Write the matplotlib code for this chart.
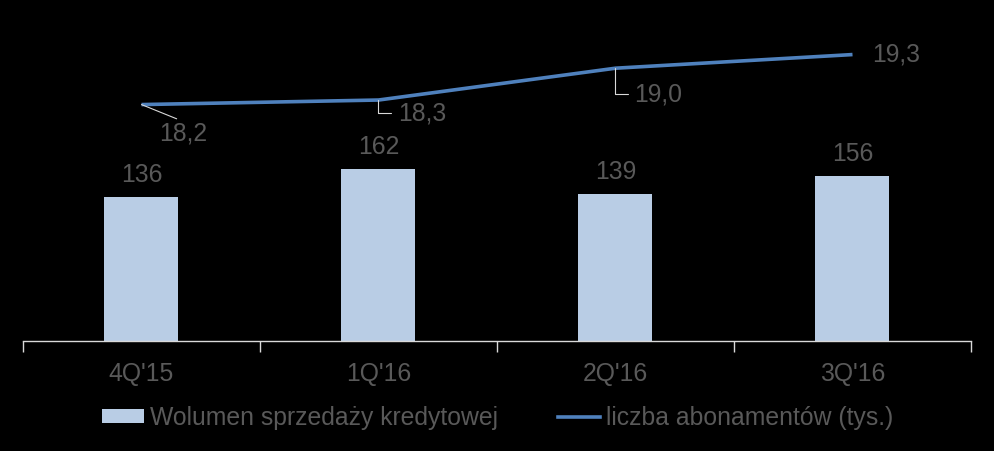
import numpy as np
import matplotlib.pyplot as plt
from matplotlib.patches import Patch
from matplotlib.lines import Line2D

# dane
kwartaly = ["4Q'15", "1Q'16", "2Q'16", "3Q'16"]
wolumen = [136, 162, 139, 156]
abonamenty = [18.2, 18.3, 19.0, 19.3]
etykiety_abon = ["18,2", "18,3", "19,0", "19,3"]

BAR_COLOR = '#B9CDE5'
LINE_COLOR = '#4F81BD'
TEXT_COLOR = '#595959'
LEADER_COLOR = '#D9D9D9'
FS = 17.8

plt.rcParams['font.family'] = ['Liberation Sans', 'DejaVu Sans']

fig = plt.figure(figsize=(9.95, 4.51), dpi=100, facecolor='black')
ax = fig.add_axes([23 / 995, 110 / 451, 948 / 995, 341 / 451])
ax.set_facecolor('black')

x = np.arange(len(kwartaly))
ax.bar(x, wolumen, width=74 / 237, color=BAR_COLOR, zorder=2)
ax.set_xlim(-0.5, len(kwartaly) - 0.5)
ax.set_ylim(0, 322)

# etykiety słupków
for xi, v in zip(x, wolumen):
    ax.annotate(str(v), (xi, v), xytext=(0, 22), textcoords='offset pixels',
                ha='center', va='center', fontsize=FS, color=TEXT_COLOR)

# oś X
for s in ['top', 'right', 'left']:
    ax.spines[s].set_visible(False)
ax.spines['bottom'].set_color(LEADER_COLOR)
ax.spines['bottom'].set_linewidth(1)
ax.set_yticks([])
ax.set_xticks(x)
ax.set_xticklabels(kwartaly, fontsize=FS, color=TEXT_COLOR)
ax.tick_params(axis='x', length=0, pad=15)
ax.set_xticks(np.arange(-0.5, len(kwartaly)), minor=True)
ax.tick_params(axis='x', which='minor', length=8, color=LEADER_COLOR, width=1)

# druga oś – linia
ax2 = ax.twinx()
ax2.set_ylim(13.0, 20.5)
ax2.axis('off')
ax2.plot(x, abonamenty, color=LINE_COLOR, lw=2.6, zorder=3, solid_capstyle='butt')

offsets = [(42, -29), (44, -13), (43, -26), (44, 0)]
for i, (xi, v, lab) in enumerate(zip(x, abonamenty, etykiety_abon)):
    dx, dy = offsets[i]
    if i == 0:
        arrow = dict(arrowstyle='-', color=LEADER_COLOR, lw=0.8,
                     shrinkA=0, shrinkB=0, relpos=(0.5, 1.0))
    elif i in (1, 2):
        arrow = dict(arrowstyle='-', color=LEADER_COLOR, lw=0.8,
                     shrinkA=3, shrinkB=0, relpos=(0.0, 0.5),
                     connectionstyle='angle,angleA=0,angleB=90,rad=0')
    else:
        arrow = None
    ax2.annotate(lab, (xi, v), xytext=(dx, dy), textcoords='offset pixels',
                 ha='center', va='center', fontsize=FS, color=TEXT_COLOR,
                 arrowprops=arrow)

# legenda
handles = [Patch(facecolor=BAR_COLOR, edgecolor='none'),
           Line2D([0], [0], color=LINE_COLOR, lw=2.6)]
leg = fig.legend(handles, ['Wolumen sprzedaży kredytowej', 'liczba abonamentów (tys.)'],
                 loc='center', bbox_to_anchor=(0.5, 33 / 451), ncol=2, frameon=False,
                 fontsize=FS, handlelength=1.7, handleheight=0.5, handletextpad=0.25,
                 columnspacing=2.4)
for t in leg.get_texts():
    t.set_color(TEXT_COLOR)

fig.savefig('out.png', dpi=100, facecolor='black')
